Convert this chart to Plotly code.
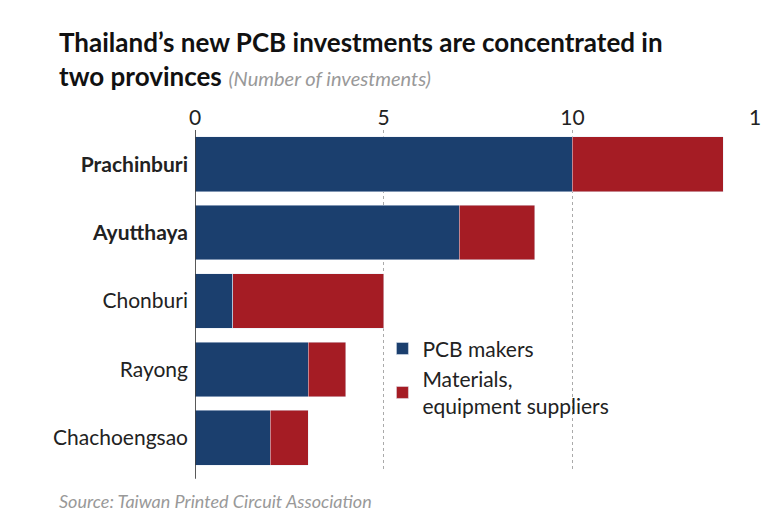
import plotly.graph_objects as go

provinces = ['Prachinburi', 'Ayutthaya', 'Chonburi', 'Rayong', 'Chachoengsao']
tick_labels = ['<b>Prachinburi</b>', '<b>Ayutthaya</b>', 'Chonburi', 'Rayong', 'Chachoengsao']
pcb_makers = [10, 7, 1, 3, 2]
suppliers = [4, 2, 4, 1, 1]

fig = go.Figure()
fig.add_trace(go.Bar(y=provinces, x=pcb_makers, orientation='h', name='PCB makers',
                     marker_color='#1b3f6e'))
fig.add_trace(go.Bar(y=provinces, x=suppliers, orientation='h',
                     name='Materials,<br>equipment suppliers', marker_color='#a51c24'))

fig.update_layout(
    barmode='stack', bargap=0.2,
    width=769, height=514,
    plot_bgcolor='white', paper_bgcolor='white',
    font=dict(family='Lato, Noto Sans, sans-serif', size=21, color='#222'),
    margin=dict(l=187, r=14, t=122, b=50, autoexpand=False),
    xaxis=dict(side='top', range=[0, 15.05], tickvals=[0, 5, 10, 15], showgrid=True,
               gridcolor='#aaa', griddash='dot', gridwidth=1, zeroline=False,
               tickfont=dict(size=21, color='#222'), fixedrange=True, automargin=False),
    yaxis=dict(categoryorder='array', categoryarray=provinces[::-1],
               tickvals=provinces, ticktext=tick_labels, automargin=False,
               tickfont=dict(size=21, color='#222'), ticks='', ticklabelstandoff=6),
    legend=dict(x=0.33, y=0.42, xanchor='left', yanchor='top', traceorder='normal',
                font=dict(size=21, color='#222'), bgcolor='rgba(0,0,0,0)'),
    shapes=[dict(type='line', xref='x', yref='paper', x0=0, x1=0, y0=-0.02, y1=1.0,
                 line=dict(color='#222', width=1.5))],
    annotations=[
        dict(text='<b>Thailand\u2019s new PCB investments are concentrated in<br>two provinces</b> '
                  '<span style="color:#999;font-size:20px"><i>(Number of investments)</i></span>',
             xref='paper', yref='paper', x=-0.243, y=1.31, xanchor='left', yanchor='top',
             align='left', showarrow=False, font=dict(size=26, color='#111')),
        dict(text='<i>Source: Taiwan Printed Circuit Association</i>',
             xref='paper', yref='paper', x=-0.243, y=-0.085, xanchor='left',
             yanchor='middle', showarrow=False, font=dict(size=18, color='#999')),
    ],
)

fig.write_html('out.html')
